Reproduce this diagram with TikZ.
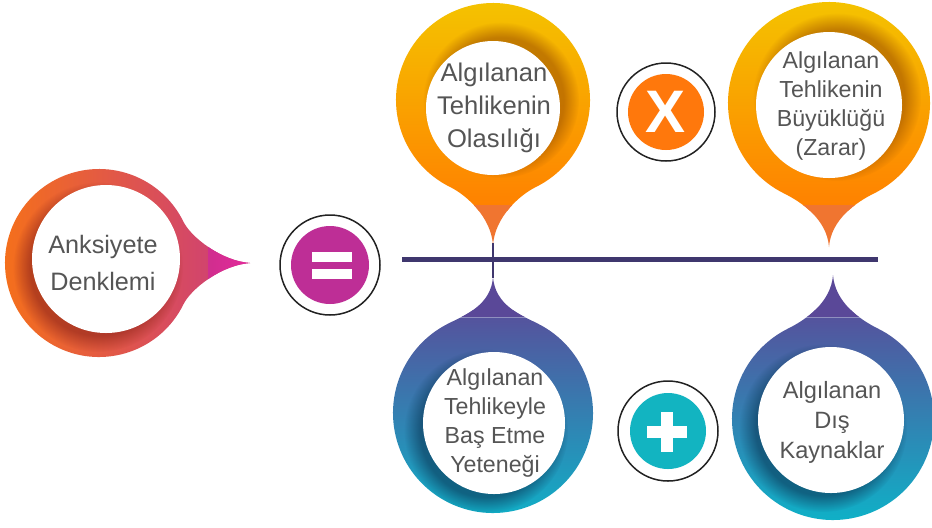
\documentclass[tikz,border=0pt]{standalone}
\usepackage{fontspec}
\setmainfont{Liberation Sans}
\usetikzlibrary{fadings}
\definecolor{txtc}{HTML}{555555}
\definecolor{ringc}{HTML}{222222}
\definecolor{linec}{HTML}{3F376E}
\definecolor{yelT}{HTML}{F4C300}
\definecolor{oraM}{HTML}{FFA000}
\definecolor{oraB}{HTML}{FF8000}
\definecolor{oraBand}{HTML}{F07530}
\definecolor{oraShadow}{HTML}{A05400}
\definecolor{bluP}{HTML}{57509C}
\definecolor{bluM}{HTML}{3B6AA4}
\definecolor{bluT}{HTML}{0DB3C8}
\definecolor{bluBand}{HTML}{5A4898}
\definecolor{bluShadow}{HTML}{0A3858}
\definecolor{lefO}{HTML}{F5701A}
\definecolor{lefM}{HTML}{C93A80}
\definecolor{lefBandA}{HTML}{D02E8E}
\definecolor{lefBandB}{HTML}{E6289E}
\definecolor{lefShadow}{HTML}{8E2418}
\definecolor{eqc}{HTML}{BE2E96}
\definecolor{xc}{HTML}{FF780C}
\definecolor{pc}{HTML}{12B4C1}

\newcommand\pinpath[2]{(0,#2) .. controls (-2,{#2-28}) and ({#1*cos(116)+16},{#1*sin(116)+8}) .. (116:#1) arc[start angle=116, end angle=424, radius=#1] .. controls ({#1*cos(64)-16},{#1*sin(64)+8}) and (2,{#2-28}) .. (0,#2) -- cycle}

\tikzset{
  ptxt/.style={text=txtc, align=center, inner sep=0pt},
  opring/.style={circle, draw=ringc, line width=0.75pt, minimum size=#1, inner sep=0pt},
  opfill/.style={circle, fill=#1, minimum size=38pt, inner sep=0pt},
  halo/.style={#1, opacity=.6, path fading=circle with fuzzy edge 20 percent},
  hub/.style={linec, line width=2.5pt},
  stem/.style={linec, line width=1pt}
}

\begin{document}
\begin{tikzpicture}[x=0.5pt, y=-0.5pt]
\useasboundingbox (0,0) rectangle (932,527);
\fill[white] (0,0) rectangle (932,527);

% ---------- left pin ----------
\begin{scope}
\clip[shift={(99,263)}, rotate=90] \pinpath{94}{151};
\shade[left color=lefO, right color=lefM] (0,160) rectangle (255,370);
\shade[left color=lefBandA, right color=lefBandB] (208,160) rectangle (255,370);
\fill[halo=lefShadow] (98,267) circle[radius=85];
\end{scope}
\fill[white] (106,259) circle[radius=74];
\node[ptxt, font=\fontsize{12.6}{18.5}\selectfont] (anks) at (103,263) {Anksiyete\\Denklemi};

% ---------- top-left pin ----------
\begin{scope}
\clip[shift={(493,100)}] \pinpath{97}{145};
\shade[top color=yelT, middle color=oraM, bottom color=oraB] (380,0) rectangle (600,210);
\fill[oraBand] (380,205) rectangle (600,250);
\fill[halo=oraShadow] (501,100) circle[radius=78];
\end{scope}
\fill[white] (493,108) circle[radius=67];
\node[ptxt, font=\fontsize{12.8}{16.5}\selectfont] (olas) at (494,108) {Algılanan\\Tehlikenin\\Olasılığı};

% ---------- top-right pin ----------
\begin{scope}
\clip[shift={(829,103)}] \pinpath{101}{144};
\shade[top color=yelT, middle color=oraM, bottom color=oraB] (720,0) rectangle (935,210);
\fill[oraBand] (720,205) rectangle (935,252);
\fill[halo=oraShadow] (837,97) circle[radius=84];
\end{scope}
\fill[white] (829,105) circle[radius=73];
\node[ptxt, font=\fontsize{11.6}{14.5}\selectfont] (buyuk) at (831,106) {Algılanan\\Tehlikenin\\Büyüklüğü\\(Zarar)};

% ---------- bottom-left pin ----------
\begin{scope}
\clip[shift={(493,413)}, rotate=180] \pinpath{100}{136};
\shade[top color=bluP, middle color=bluM, bottom color=bluT] (380,310) rectangle (600,527);
\fill[bluBand] (380,270) rectangle (600,317);
\draw[white, opacity=.35, line width=.4pt] (380,317) -- (600,317);
\fill[halo=bluShadow] (486,431) circle[radius=82];
\end{scope}
\fill[white] (494,423) circle[radius=71];
\node[ptxt, font=\fontsize{11.6}{14.5}\selectfont] (basetme) at (495,423) {Algılanan\\Tehlikeyle\\Baş Etme\\Yeteneği};

% ---------- bottom-right pin ----------
\begin{scope}
\clip[shift={(833,419)}, rotate=180] \pinpath{101}{144};
\shade[top color=bluP, middle color=bluM, bottom color=bluT] (720,310) rectangle (935,527);
\fill[bluBand] (720,270) rectangle (935,317);
\draw[white, opacity=.35, line width=.4pt] (720,317) -- (935,317);
\fill[halo=bluShadow] (823,428) circle[radius=84];
\end{scope}
\fill[white] (831,420) circle[radius=73];
\node[ptxt, font=\fontsize{11.8}{15}\selectfont] (dis) at (832,422) {Algılanan\\Dış\\Kaynaklar};

% ---------- connectors ----------
\coordinate (hubL) at (402,259);
\coordinate (hubR) at (878,259);
\coordinate (tipTL) at (493,243);
\coordinate (tipBL) at (493,278);
\draw[hub] (hubL) -- (hubR);
\draw[stem] (tipTL) -- (tipBL);

% ---------- operators ----------
\node[opring=50pt] (eq) at (330,265) {};
\node[opfill=eqc, minimum size=39pt] (eqin) at (eq) {};
\fill[white] (312,252) rectangle (352,262);
\fill[white] (312,269) rectangle (352,279);

\node[opring=49pt] (times) at (666,112) {};
\node[opfill=xc, text=white, font=\fontsize{30}{30}\selectfont\bfseries] (timesin) at (times) {X};

\node[opring=50pt] (plus) at (668,431) {};
\node[opfill=pc] (plusin) at (plus) {};
\fill[white] (647,426) rectangle (687,438);
\fill[white] (661,412) rectangle (673,452);
\end{tikzpicture}
\end{document}
